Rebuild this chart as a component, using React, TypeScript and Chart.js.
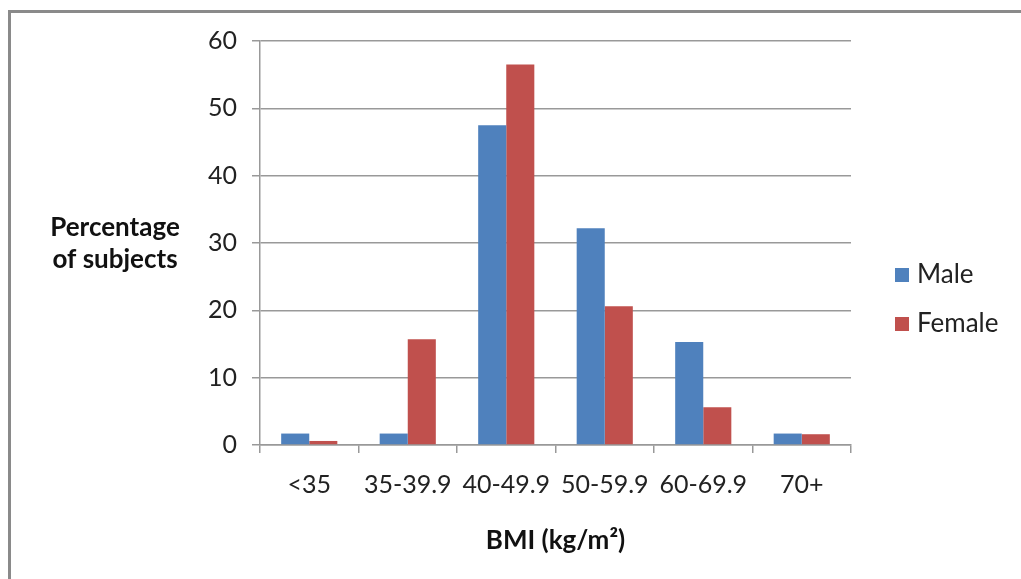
import React, { useEffect, useRef } from "react";
import { Chart, registerables } from "chart.js";

Chart.register(...registerables);

const categories = ["<35", "35-39.9", "40-49.9", "50-59.9", "60-69.9", "70+"];
const maleValues = [1.7, 1.7, 47.5, 32.2, 15.3, 1.7];
const femaleValues = [0.6, 15.7, 56.5, 20.6, 5.6, 1.6];
const seriesNames = ["Male", "Female"];
const seriesColors = ["#4F81BD", "#C0504D"];
const yTitleLines = ["Percentage", "of subjects"];
const xTitle = "BMI (kg/m²)";

const FONT = "Lato, 'Open Sans', sans-serif";

const overlayPlugin = {
  id: "overlay",
  afterDraw(chart: any) {
    const ctx = chart.ctx;
    ctx.save();
    // Y title (horizontal, two lines)
    ctx.fillStyle = "#111";
    ctx.font = `bold 26px ${FONT}`;
    ctx.textAlign = "center";
    ctx.textBaseline = "middle";
    ctx.fillText(yTitleLines[0], 115, 228);
    ctx.fillText(yTitleLines[1], 115, 260);
    // Legend
    ctx.font = `26px ${FONT}`;
    ctx.textAlign = "left";
    const legendY = [275, 324];
    seriesNames.forEach((name, i) => {
      ctx.fillStyle = seriesColors[i];
      ctx.fillRect(895, legendY[i] - 7, 14, 14);
      ctx.fillStyle = "#222";
      ctx.fillText(name, 917, legendY[i]);
    });
    ctx.restore();
  },
};

export default function App() {
  const ref = useRef<HTMLCanvasElement>(null);
  useEffect(() => {
    if (!ref.current) return;
    const chart = new Chart(ref.current, {
      type: "bar",
      data: {
        labels: categories,
        datasets: [
          {
            label: seriesNames[0],
            data: maleValues,
            backgroundColor: seriesColors[0],
            borderWidth: 0,
          },
          {
            label: seriesNames[1],
            data: femaleValues,
            backgroundColor: seriesColors[1],
            borderWidth: 0,
          },
        ],
      },
      options: {
        responsive: false,
        animation: false,
        layout: { padding: { left: 0, right: 170, top: 41, bottom: 0 } },
        plugins: {
          legend: { display: false },
          tooltip: { enabled: false },
          title: { display: false },
        },
        datasets: {
          bar: { categoryPercentage: 0.57, barPercentage: 1 },
        },
        scales: {
          x: {
            grid: {
              display: true,
              drawOnChartArea: false,
              drawTicks: true,
              tickLength: 8,
              color: "#999",
              lineWidth: 1.5,
              offset: true,
            },
            border: { color: "#999", width: 1.5 },
            ticks: {
              color: "#222",
              font: { family: FONT, size: 25 },
              padding: 17,
              maxRotation: 0,
              autoSkip: false,
            },
            title: {
              display: true,
              text: xTitle,
              color: "#111",
              font: { family: FONT, size: 26, weight: "bold" },
              padding: { top: 0, bottom: 23 },
            },
            afterFit: (s: any) => {
              s.height = 134;
            },
          },
          y: {
            min: 0,
            max: 60,
            ticks: {
              stepSize: 10,
              color: "#222",
              font: { family: FONT, size: 25 },
              padding: 15,
            },
            grid: {
              color: "#999",
              lineWidth: 1.5,
              tickLength: 8,
            },
            border: { color: "#999", width: 1.5 },
            afterFit: (s: any) => {
              s.width = 260;
            },
          },
        },
      },
      plugins: [overlayPlugin],
    });
    return () => chart.destroy();
  }, []);

  return (
    <div style={{ position: "absolute", left: 0, top: 0, width: 1021, height: 579, overflow: "hidden", background: "#fff" }}>
      <div
        style={{
          position: "absolute",
          left: 8,
          top: 10,
          width: 1100,
          height: 700,
          borderLeft: "3px solid #8a8a8a",
          borderTop: "3px solid #8a8a8a",
        }}
      />
      <canvas ref={ref} width={1021} height={579} style={{ position: "absolute", left: 0, top: 0 }} />
    </div>
  );
}
